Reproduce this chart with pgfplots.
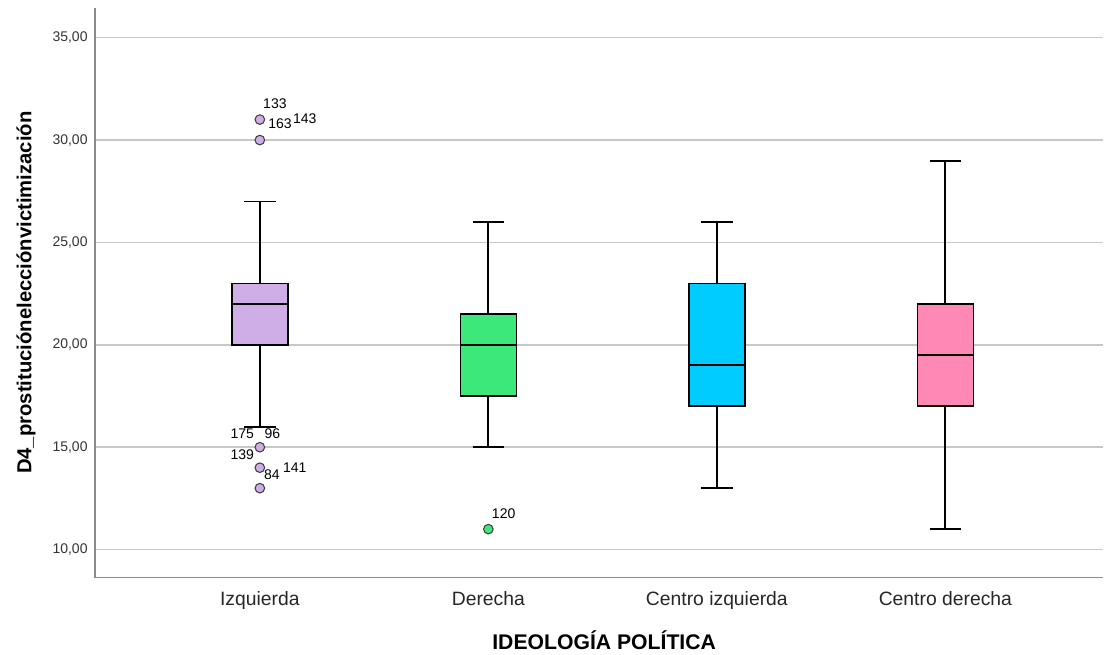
\documentclass[border=0pt]{standalone}
\usepackage{pgfplots}
\pgfplotsset{compat=1.18}
\usepackage{fontspec}
\setmainfont{Liberation Sans}
\definecolor{cIzq}{HTML}{CFADE6}
\definecolor{cDer}{HTML}{3DE87A}
\definecolor{cCiz}{HTML}{00CCFF}
\definecolor{cCde}{HTML}{FF88B4}
\definecolor{gridc}{HTML}{C8C8C8}
\definecolor{axc}{HTML}{8A8A8A}
\begin{document}
\begin{tikzpicture}
\begin{axis}[
  scale only axis,
  width=756.75pt, height=427.5pt,
  xmin=-0.7216, xmax=3.691,
  ymin=8.633, ymax=36.45,
  axis x line*=bottom, axis y line*=left,
  axis line style={draw=axc, line width=1.1pt},
  xtick={0,1,2,3},
  xticklabels={Izquierda,Derecha,Centro izquierda,Centro derecha},
  major tick length=0pt,
  xticklabel style={font=\fontsize{14.5}{16}\selectfont, anchor=base, yshift=-21pt, text=black!85},
  ytick={10,15,20,25,30,35},
  yticklabel style={font=\fontsize{10.5}{12}\selectfont, text=black!80, xshift=-2pt},
  /pgf/number format/.cd, fixed, fixed zerofill, precision=2, use comma, assume math mode=true,
  /pgfplots/.cd,
  ymajorgrids,
  grid style={draw=gridc, line width=1.1pt},
  xlabel={\textbf{IDEOLOGÍA POLÍTICA}},
  ylabel={\textbf{D4\_prostituciónelecciónvictimización}},
  every axis x label/.style={at={(axis description cs:0.505,-0.1105)}, anchor=center, font=\fontsize{15.9}{18}\selectfont},
  every axis y label/.style={at={(axis description cs:-0.0684,0.5)}, rotate=90, anchor=center, font=\fontsize{15.2}{18}\selectfont},
  clip=false,
  whisk/.style={black, line width=1.45pt, line cap=rect},
  boxs/.style={draw=black, line width=1.2pt},
  med/.style={black, line width=1.7pt},
]
% Izquierda
\addplot[whisk] coordinates {(0,16) (0,20)};
\addplot[whisk] coordinates {(-0.065,16) (0.065,16)};
\addplot[whisk] coordinates {(0,23) (0,27)};
\addplot[whisk] coordinates {(-0.065,27) (0.065,27)};
\addplot[boxs, fill=cIzq] coordinates {(-0.1225,20) (0.1225,20) (0.1225,23) (-0.1225,23)} -- cycle;
\addplot[med] coordinates {(-0.1225,22) (0.1225,22)};
% Derecha
\addplot[whisk] coordinates {(1,15) (1,17.5)};
\addplot[whisk] coordinates {(0.935,15) (1.065,15)};
\addplot[whisk] coordinates {(1,21.5) (1,26)};
\addplot[whisk] coordinates {(0.935,26) (1.065,26)};
\addplot[boxs, fill=cDer] coordinates {(0.8775,17.5) (1.1225,17.5) (1.1225,21.5) (0.8775,21.5)} -- cycle;
\addplot[med] coordinates {(0.8775,20) (1.1225,20)};
% Centro izquierda
\addplot[whisk] coordinates {(2,13) (2,17)};
\addplot[whisk] coordinates {(1.935,13) (2.065,13)};
\addplot[whisk] coordinates {(2,23) (2,26)};
\addplot[whisk] coordinates {(1.935,26) (2.065,26)};
\addplot[boxs, fill=cCiz] coordinates {(1.8775,17) (2.1225,17) (2.1225,23) (1.8775,23)} -- cycle;
\addplot[med] coordinates {(1.8775,19) (2.1225,19)};
% Centro derecha
\addplot[whisk] coordinates {(3,11) (3,17)};
\addplot[whisk] coordinates {(2.935,11) (3.065,11)};
\addplot[whisk] coordinates {(3,22) (3,29)};
\addplot[whisk] coordinates {(2.935,29) (3.065,29)};
\addplot[boxs, fill=cCde] coordinates {(2.8775,17) (3.1225,17) (3.1225,22) (2.8775,22)} -- cycle;
\addplot[med] coordinates {(2.8775,19.5) (3.1225,19.5)};
% outliers
\addplot[only marks, mark=*, mark size=3.6pt, mark options={fill=cIzq, draw=black!75, line width=0.8pt}] coordinates {(0,31) (0,30) (0,15) (0,14) (0,13)};
\addplot[only marks, mark=*, mark size=3.6pt, mark options={fill=cDer, draw=black!75, line width=0.8pt}] coordinates {(1,11)};
\begin{scope}[every node/.style={font=\fontsize{10.5}{12}\selectfont, inner sep=0pt, text=black}]
\node at (axis cs:0.066,31.76) {133};
\node at (axis cs:0.088,30.8) {163};
\node at (axis cs:0.197,31.05) {143};
\node at (axis cs:-0.077,15.64) {175};
\node at (axis cs:0.055,15.64) {96};
\node at (axis cs:-0.077,14.64) {139};
\node at (axis cs:0.053,13.66) {84};
\node at (axis cs:0.153,14.0) {141};
\node at (axis cs:1.067,11.76) {120};
\end{scope}
\end{axis}
\path (current axis.south west) ++(-71.25pt,-57.75pt) rectangle ++(828pt,491.25pt);
\end{tikzpicture}
\end{document}
